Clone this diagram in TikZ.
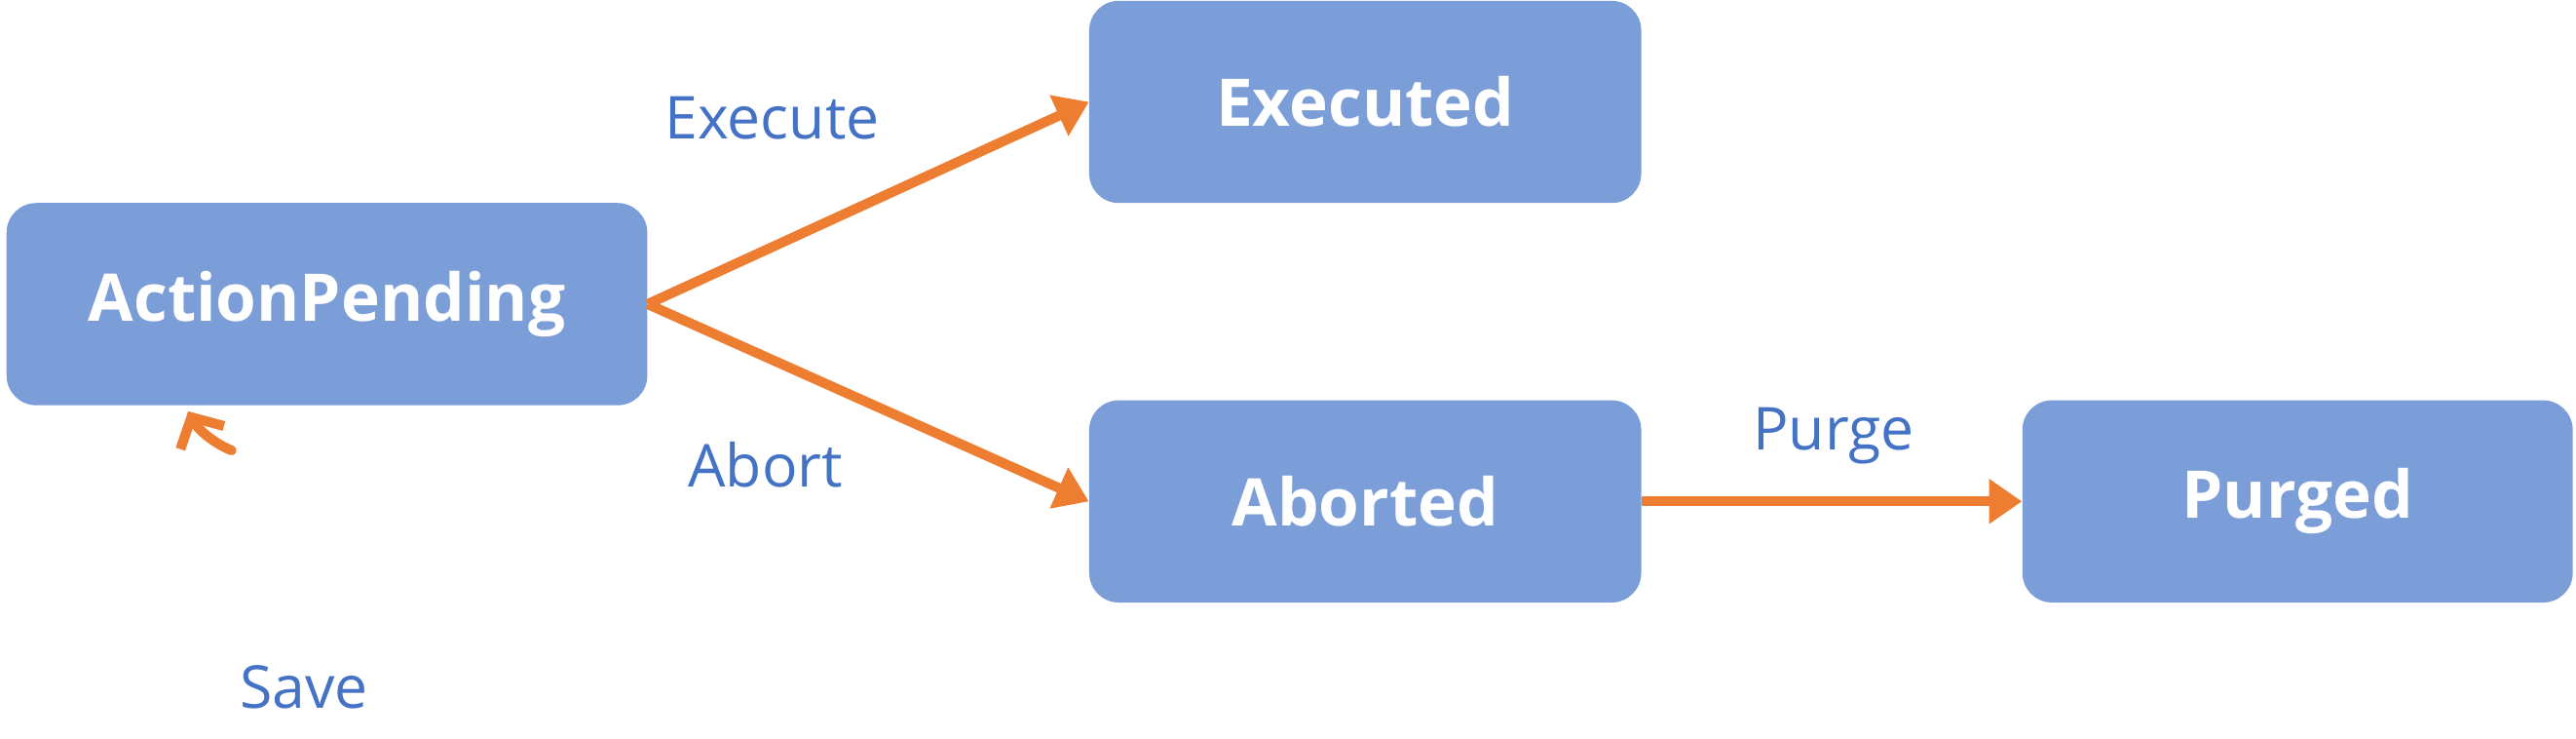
\documentclass[tikz,border=0pt]{standalone}
\usepackage{fontspec}
\setmainfont{Open Sans}
\usetikzlibrary{arrows.meta}
\definecolor{boxc}{HTML}{7B9ED8}
\definecolor{labc}{HTML}{4472C4}
\definecolor{arrc}{HTML}{ED7D31}
\begin{document}
\begin{tikzpicture}[x=1pt,y=-1pt,
  state/.style={fill=boxc,rounded corners=18pt,minimum width=#1,minimum height=123pt,inner sep=0pt,text=white,font=\fontsize{40}{48}\selectfont\bfseries},
  lab/.style={text=labc,font=\fontsize{36}{42}\selectfont},
  conn/.style={draw=arrc,line width=6pt,-{Triangle[length=20pt,width=26pt]}}]
\useasboundingbox (0,0) rectangle (1568,449);
\node[state=390pt] (ap) at (199,185) {ActionPending};
\node[state=336pt] (ex) at (831,62) {Executed};
\node[state=336pt] (ab) at (831,305) {Aborted};
\node[state=335pt] (pu) at (1398.5,305) {Purged};
\draw[conn] (ap.east) -- (ex.west);
\draw[conn] (ap.east) -- (ab.west);
\draw[conn] (ab.east) -- (pu.west);
\coordinate (ls) at (141,274);
\draw[draw=arrc,line width=6pt,line cap=round,-{Straight Barb[length=14pt,width=30pt]}] (ls) arc[start angle=-energy,start angle=112,end angle=-238+360+30,radius=52] ;
\node[lab] (le) at (470,72) {Execute};
\node[lab] (lb) at (466,283) {Abort};
\node[lab] (lp) at (1116,265) {Purge};
\node[lab] (ls2) at (185,418) {Save};
\end{tikzpicture}
\end{document}
